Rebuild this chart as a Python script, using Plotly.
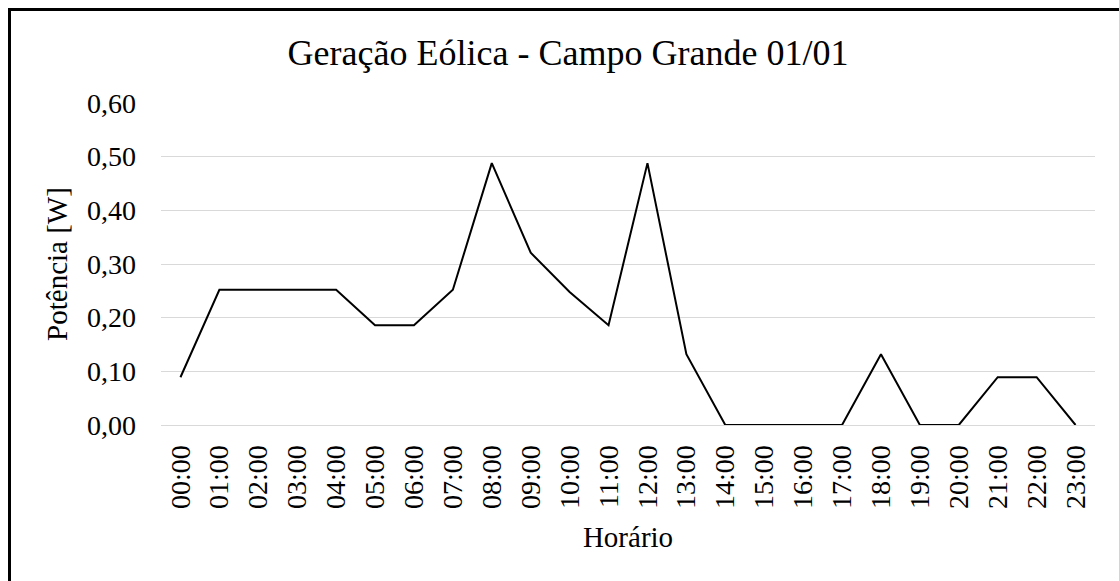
import plotly.graph_objects as go

hours = ["00:00","01:00","02:00","03:00","04:00","05:00","06:00","07:00",
         "08:00","09:00","10:00","11:00","12:00","13:00","14:00","15:00",
         "16:00","17:00","18:00","19:00","20:00","21:00","22:00","23:00"]
power = [0.089, 0.252, 0.252, 0.252, 0.252, 0.186, 0.186, 0.252,
         0.488, 0.321, 0.248, 0.186, 0.488, 0.132, 0.0, 0.0,
         0.0, 0.0, 0.132, 0.0, 0.0, 0.089, 0.089, 0.0]
y_ticks = [0.0, 0.1, 0.2, 0.3, 0.4, 0.5, 0.6]

FONT = "Liberation Serif"
W, H = 1119, 581
L, R, T, B = 161, W - 1095, 103, H - 425
pw, ph = W - L - R, H - T - B

fig = go.Figure()
fig.add_trace(go.Scatter(x=hours, y=power, mode="lines",
                         line=dict(color="black", width=2),
                         cliponaxis=False, showlegend=False))

fig.update_layout(
    width=W, height=H,
    margin=dict(l=L, r=R, t=T, b=B, pad=0),
    paper_bgcolor="white", plot_bgcolor="white",
    separators=",.",
    font=dict(family=FONT, size=28, color="black"),
    title=dict(text="Geração Eólica - Campo Grande 01/01",
               font=dict(family=FONT, size=36, color="black"),
               xref="paper", x=(568 - L) / pw, xanchor="center",
               yref="container", y=1 - 52 / H, yanchor="middle"),
    xaxis=dict(type="category", range=[-0.5, 23.5], tickangle=-90,
               showgrid=False, showline=True, linecolor="#d9d9d9", linewidth=1.3,
               ticks="", ticklabelstandoff=8,
               tickfont=dict(family=FONT, size=28, color="black"),
               title=dict(text="Horário", standoff=18,
                          font=dict(family=FONT, size=29, color="black"))),
    yaxis=dict(range=[0, 0.6], tickvals=y_ticks, tickformat=".2f",
               showgrid=True, gridcolor="#d9d9d9", gridwidth=1.3,
               zeroline=False, showline=False, ticks="",
               ticklabelstandoff=24,
               tickfont=dict(family=FONT, size=28, color="black"),
               title=dict(text="Potência [W]", standoff=10,
                          font=dict(family=FONT, size=29, color="black"))),
    shapes=[dict(type="rect", xref="paper", yref="paper",
                 x0=(9.5 - L) / pw, x1=2, y0=-2, y1=(H - B - 9.5) / ph,
                 line=dict(color="black", width=3), fillcolor="rgba(0,0,0,0)",
                 layer="above")],
)

fig.write_html("out.html",
               config={"displayModeBar": False},
               post_script="document.body.style.margin='0';"
                           "document.body.style.overflow='hidden';"
                           "document.documentElement.style.overflow='hidden';")
